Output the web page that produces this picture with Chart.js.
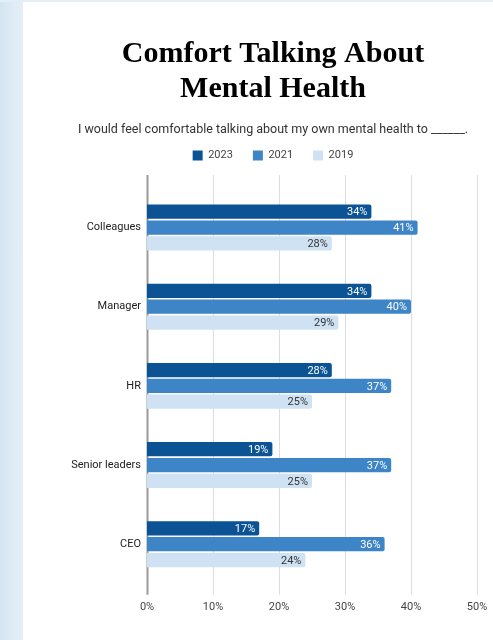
<!DOCTYPE html>
<html>
<head>
<meta charset="utf-8">
<script src="https://cdn.jsdelivr.net/npm/chart.js@4.4.1/dist/chart.umd.min.js"></script>
<style>
  html, body { margin: 0; padding: 0; width: 493px; height: 640px; overflow: hidden; background: #fff; }
  .side { position: absolute; left: 0; top: 0; width: 23px; height: 640px;
          background: linear-gradient(to right, #d4e4ef, #e0ecf5 60%, #e3eef6); }
  .topline { position: absolute; left: 0; top: 0; width: 493px; height: 2px; background: #e3eef6; }
  .wrap { position: absolute; left: 23px; top: 0; width: 506px; height: 640px; }
</style>
</head>
<body>
<div class="side"></div>
<div class="topline"></div>
<div class="wrap"><canvas id="chart"></canvas></div>
<script>
// categories and series
const categories = ['Colleagues', 'Manager', 'HR', 'Senior leaders', 'CEO'];
const years = ['2023', '2021', '2019'];
const values2023 = [34, 34, 28, 19, 17];
const values2021 = [41, 40, 37, 37, 36];
const values2019 = [28, 29, 25, 25, 24];
const xTicks = [0, 10, 20, 30, 40, 50];

const colors = ['#0b5394', '#3d85c6', '#cfe2f3'];
const labelColors = ['#ffffff', '#ffffff', '#333333'];

// vertical grid lines, a bit taller than the bar area
const gridLines = {
  id: 'gridLines',
  beforeLayout(chart) {
    // extra room under the legend
    const lg = chart.legend;
    if (lg && !lg._padded) {
      lg._padded = true;
      const fit = lg.fit;
      lg.fit = function () { fit.call(this); this.height += 17; };
    }
  },
  beforeDatasetsDraw(chart) {
    const { ctx, chartArea, scales } = chart;
    ctx.save();
    xTicks.forEach(v => {
      const x = Math.round(scales.x.getPixelForValue(v)) + 0.5;
      ctx.beginPath();
      ctx.lineWidth = v === 0 ? 2 : 1;
      ctx.strokeStyle = v === 0 ? '#9a9a9a' : '#dddddd';
      ctx.moveTo(x, chartArea.top - 13);
      ctx.lineTo(x, chartArea.bottom + 11);
      ctx.stroke();
    });
    ctx.restore();
  }
};

// value labels inside the bar ends
const valueLabels = {
  id: 'valueLabels',
  afterDatasetsDraw(chart) {
    const { ctx } = chart;
    ctx.save();
    ctx.font = '11px Roboto';
    ctx.textAlign = 'right';
    ctx.textBaseline = 'middle';
    chart.data.datasets.forEach((ds, i) => {
      const meta = chart.getDatasetMeta(i);
      ctx.fillStyle = labelColors[i];
      meta.data.forEach((bar, j) => {
        ctx.fillText(ds.data[j] + '%', bar.x - 4, bar.y + 1);
      });
    });
    ctx.restore();
  }
};

new Chart(document.getElementById('chart'), {
  type: 'bar',
  data: {
    labels: categories,
    datasets: [values2023, values2021, values2019].map((d, i) => ({
      label: years[i],
      data: d,
      backgroundColor: colors[i],
      borderRadius: 2,
      categoryPercentage: 0.6,
      barPercentage: 0.9
    }))
  },
  options: {
    indexAxis: 'y',
    responsive: true,
    maintainAspectRatio: false,
    animation: false,
    layout: { padding: { top: 0, left: 46, right: 52, bottom: 9 } },
    plugins: {
      title: {
        display: true,
        text: ['Comfort Talking About', 'Mental Health'],
        color: '#000',
        font: { family: 'Liberation Serif', weight: 'bold', size: 30, lineHeight: 35 / 30 },
        padding: { top: 37, bottom: 15 }
      },
      subtitle: {
        display: true,
        text: 'I would feel comfortable talking about my own mental health to ______.',
        color: '#333',
        font: { family: 'Roboto', size: 12.5 },
        padding: { top: 0, bottom: -7 }
      },
      legend: {
        position: 'top',
        labels: {
          boxWidth: 10, boxHeight: 10, padding: 20,
          color: '#444', font: { family: 'Roboto', size: 11 }
        }
      },
      tooltip: { enabled: false }
    },
    scales: {
      x: {
        min: 0, max: 50,
        afterBuildTicks: s => { s.ticks = xTicks.map(v => ({ value: v })); },
        grid: { display: false, drawTicks: false },
        border: { display: false },
        ticks: { padding: 17, color: '#444', font: { family: 'Roboto', size: 11 }, callback: v => v + '%' }
      },
      y: {
        afterFit: s => { s.width = 78; },
        grid: { display: false, drawTicks: false },
        border: { display: false },
        ticks: { padding: 6, color: '#222', font: { family: 'Roboto', size: 11 } }
      }
    }
  },
  plugins: [gridLines, valueLabels]
});
</script>
</body>
</html>
